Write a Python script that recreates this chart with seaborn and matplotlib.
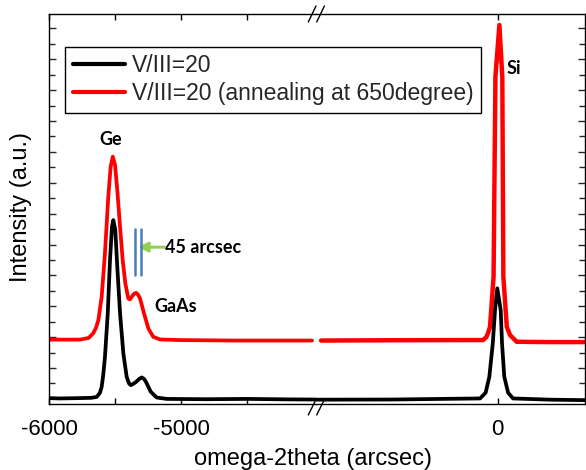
import matplotlib
matplotlib.use("Agg")
import matplotlib.pyplot as plt
import seaborn as sns
import pandas as pd
from matplotlib.lines import Line2D
from matplotlib.ticker import FixedLocator, NullFormatter

# ---------------- data ----------------
# Left panel: Ge / GaAs region (arcsec, a.u.)
black_ge_x = [-6000, -5917, -5780, -5680, -5639, -5615, -5602, -5590, -5577, -5556,
              -5539, -5524, -5514, -5499, -5484, -5463, -5438, -5413, -5395, -5382,
              -5362, -5342, -5320, -5299, -5282, -5267, -5231, -5186, -5110, -4800,
              -4500, -4200, -3982]
black_ge_y = [-0.95, -0.97, -0.95, -0.93, -0.87, -0.60, -0.22, 0.55, 1.72, 4.54,
              7.99, 10.15, 10.58, 9.94, 7.56, 4.54, 1.94, 0.43, 0.0, -0.11,
              -0.02, 0.10, 0.28, 0.39, 0.30, 0.10, -0.54, -0.91, -1.00, -1.02,
              -1.00, -1.03, -1.04]
red_ge_x = [-6000, -5917, -5766, -5700, -5665, -5645, -5627, -5602, -5577, -5552,
            -5534, -5518, -5501, -5484, -5463, -5443, -5423, -5401, -5388, -5375,
            -5358, -5342, -5327, -5312, -5282, -5249, -5212, -5161, -5010, -4600,
            -4300, -4012]
red_ge_y = [2.84, 2.84, 2.84, 2.95, 3.26, 3.60, 4.10, 5.61, 8.44, 12.09,
            14.04, 14.69, 14.15, 12.53, 10.15, 7.99, 6.48, 5.51, 5.45, 5.61,
            5.80, 5.87, 5.75, 5.51, 4.54, 3.56, 3.02, 2.85, 2.81, 2.78,
            2.78, 2.78]

# Right panel: Si region
black_si_x = [-1372, -800, -132, -90, -62, -36, -19, -2, 24, 34, 51, 80, 117, 400, 661]
black_si_y = [-1.05, -1.04, -0.97, -0.60, 0.43, 2.59, 4.75, 6.16, 4.75, 2.59, 0.43,
              -0.60, -0.97, -1.05, -1.08]
red_si_x = [-1334, -800, -208, -110, -85, -72, -57, -30, -16, 14, 36, 44, 70, 95,
            145, 400, 661]
red_si_y = [2.78, 2.80, 2.81, 2.81, 3.00, 3.26, 3.67, 6.91, 19.87, 23.22, 19.87,
            6.91, 3.67, 3.13, 2.70, 2.68, 2.68]

series_labels = ["V/III=20", "V/III=20 (annealing at 650degree)"]
series_colors = ["#000000", "#ff0000"]

left_major_ticks = [-6000, -5000]
left_minor_ticks = [-5500, -4500]
right_ticks = [0]

# 45 arcsec marker
fwhm_marks = [-5349, -5304]

# ---------------- figure ----------------
sns.set_theme(style="ticks")
plt.rcParams['font.family'] = ['Liberation Sans', 'DejaVu Sans']

W, H = 586, 470
fig = plt.figure(figsize=(W / 100, H / 100), dpi=100)
fig.patch.set_facecolor("white")

def fx(px):
    return px / W

def fy(py):
    return 1 - py / H

ax_l_px, ax_r_px, ax_t_px, ax_b_px = 49, 585, 14, 404
brk_px = 316
axL = fig.add_axes([fx(ax_l_px), fy(ax_b_px), fx(brk_px - ax_l_px), (ax_b_px - ax_t_px) / H])
axR = fig.add_axes([fx(brk_px), fy(ax_b_px), fx(ax_r_px - brk_px), (ax_b_px - ax_t_px) / H],
                   sharey=axL)

df_bl = pd.DataFrame({"x": black_ge_x, "y": black_ge_y})
df_rl = pd.DataFrame({"x": red_ge_x, "y": red_ge_y})
df_bs = pd.DataFrame({"x": black_si_x, "y": black_si_y})
df_rs = pd.DataFrame({"x": red_si_x, "y": red_si_y})

lw = 2.7
sns.lineplot(data=df_bl, x="x", y="y", ax=axL, color=series_colors[0], lw=lw,
             estimator=None, sort=False, zorder=3)
sns.lineplot(data=df_rl, x="x", y="y", ax=axL, color=series_colors[1], lw=lw,
             estimator=None, sort=False, zorder=2)
sns.lineplot(data=df_bs, x="x", y="y", ax=axR, color=series_colors[0], lw=lw,
             estimator=None, sort=False, zorder=3)
sns.lineplot(data=df_rs, x="x", y="y", ax=axR, color=series_colors[1], lw=3.2,
             estimator=None, sort=False, zorder=2)

axL.set_xlim(-6000, -3982)
axR.set_xlim(-1372, 661)
axL.set_ylim(-1.33, 23.93)

for ax in (axL, axR):
    ax.set_xlabel("")
    ax.set_ylabel("")
    ax.set_facecolor("white")
    for s in ax.spines.values():
        s.set_linewidth(1.0)
        s.set_color("black")

axL.spines["right"].set_visible(False)
axR.spines["left"].set_visible(False)

# y ticks
yt_major = list(range(1, 24, 2))
yt_minor = list(range(0, 24, 2))
axL.yaxis.set_major_locator(FixedLocator(yt_major))
axL.yaxis.set_minor_locator(FixedLocator(yt_minor))
axL.yaxis.set_major_formatter(NullFormatter())
axL.tick_params(axis="y", which="major", direction="in", length=5, width=1,
                left=True, right=False, labelleft=False)
axL.tick_params(axis="y", which="minor", direction="in", length=4, width=1,
                left=True, right=False)
axR.tick_params(axis="y", which="both", direction="in", width=1,
                left=False, right=True, labelleft=False, labelright=False)
axR.tick_params(axis="y", which="major", length=5)
axR.tick_params(axis="y", which="minor", length=4)

# x ticks
axL.xaxis.set_major_locator(FixedLocator(left_major_ticks))
axL.xaxis.set_minor_locator(FixedLocator(left_minor_ticks))
axL.set_xticklabels([str(v) for v in left_major_ticks])
axR.xaxis.set_major_locator(FixedLocator(right_ticks))
axR.xaxis.set_minor_locator(FixedLocator([]))
axR.set_xticklabels([str(v) for v in right_ticks])
for ax in (axL, axR):
    ax.tick_params(axis="x", which="both", direction="in", length=4.5, width=1,
                   top=True, bottom=True, labelsize=16, pad=11, colors="black")

# annotations
ann_font = dict(family=["Lato", "DejaVu Sans"], fontweight="bold", color="black")
axL.text(-5531, 15.77, "Ge", ha="center", va="center", fontsize=13, **ann_font)
axL.text(-5044, 5.01, "GaAs", ha="center", va="center", fontsize=13, **ann_font)
axL.text(-5120, 8.83, "45 arcsec", ha="left", va="center", fontsize=13, **ann_font)
axR.text(125, 20.43, "Si", ha="center", va="center", fontsize=13, **ann_font)
for xm in fwhm_marks:
    axL.plot([xm, xm], [7.0, 9.99], color="#4a7ebb", lw=1.8, zorder=4)
axL.annotate("", xy=(-5327, 8.83), xytext=(-5128, 8.83),
             arrowprops=dict(arrowstyle="-|>", color="#92d050", lw=2.2,
                             mutation_scale=14, shrinkA=0, shrinkB=0))

# break marks
for (x0, x1) in [(308.3, 316.0), (316.7, 324.4)]:
    fig.add_artist(Line2D([fx(x0), fx(x1)], [fy(22), fy(6)], color="black", lw=1.0))
    fig.add_artist(Line2D([fx(x0), fx(x1 - 1)], [fy(415), fy(401.5)], color="black", lw=1.0))

# axis labels
fig.text(fx(313.5), fy(459), "omega-2theta (arcsec)", ha="center", va="center",
         fontsize=17, color="black")
fig.text(fx(21), fy(206.5), "Intensity (a.u.)", ha="center", va="center",
         rotation=90, fontsize=17, color="black")

# legend
handles = [Line2D([0], [0], color=c, lw=3.0) for c in series_colors]
leg = fig.legend(handles, series_labels, loc="upper left",
                 bbox_to_anchor=(fx(65.4), fy(47)), bbox_transform=fig.transFigure,
                 fontsize=16.5, frameon=True, fancybox=False, framealpha=1,
                 edgecolor="black", borderpad=0.32, labelspacing=0.22,
                 handlelength=2.3, handletextpad=0.3, borderaxespad=0)
leg.get_frame().set_linewidth(1.0)

fig.savefig("out.png", dpi=100, facecolor="white")
